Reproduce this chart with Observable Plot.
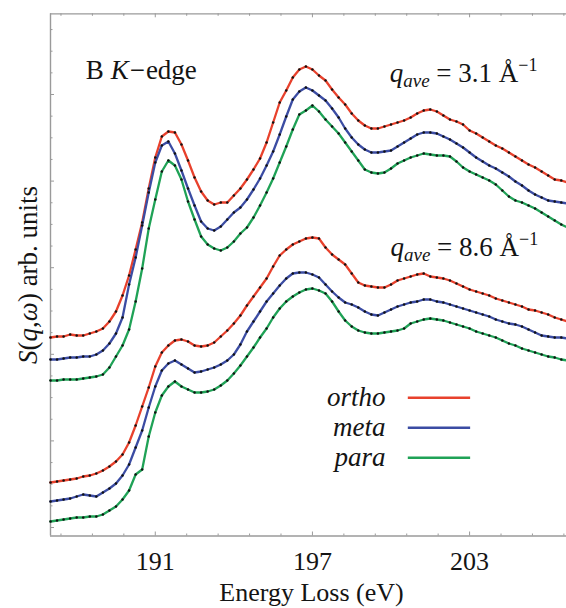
<!DOCTYPE html>
<html><head><meta charset="utf-8">
<script src="https://cdn.jsdelivr.net/npm/d3@7"></script>
<script src="https://cdn.jsdelivr.net/npm/@observablehq/plot@0.6"></script>
<style>body{margin:0;background:#fff}</style>
</head><body><div id="chart"></div>
<script>
// Energy grid of the spectra (eV)
const energyStart = 187, energyStep = 0.25;

// q_ave = 3.1 Å^-1 (arb. units)
const orthoQ31 = [203,204,204,206,205,205,207,209,212,219,229,245,265,291,318,352,383,404,409,408,396,380,363,349,340,336,338,338,345,352,361,371,382,398,418,438,450,463,471,474,471,465,460,451,443,436,427,420,415,412,412,414,416,418,420,423,427,430,431,429,425,421,419,416,410,407,403,399,395,392,388,384,380,376,373,369,365,361,360,358];
const metaQ31  = [181,181,182,183,183,184,184,186,190,197,207,223,256,283,315,348,378,395,399,387,370,352,335,319,312,310,314,321,328,333,341,351,362,375,389,406,424,441,449,453,450,445,440,432,423,412,403,396,391,388,388,389,390,394,398,402,406,408,408,407,404,401,397,393,388,383,379,375,372,368,364,359,355,350,346,343,340,339,338,337];
const paraQ31  = [160,160,161,161,161,162,163,164,166,173,184,195,211,239,272,312,341,369,380,375,361,339,321,304,296,292,290,293,299,307,313,323,335,348,362,378,394,411,426,430,435,429,421,414,407,398,389,380,371,368,367,368,372,377,380,383,385,387,386,385,385,384,379,373,369,366,363,360,356,350,344,340,338,335,332,328,324,320,316,313];

// q_ave = 8.6 Å^-1 (arb. units)
const orthoQ86 = [58,59,60,61,62,64,65,67,70,74,79,86,98,115,134,153,174,188,195,200,201,199,195,194,195,198,204,210,217,225,235,244,253,262,274,285,291,296,299,302,303,302,293,286,281,276,267,258,255,254,253,253,256,260,262,264,266,267,264,263,262,260,257,254,251,249,247,245,242,240,238,236,234,231,230,228,226,223,221,219];
const metaQ86  = [39,40,41,42,44,46,45,44,48,52,57,65,76,93,110,133,154,170,177,180,176,172,168,169,171,173,176,180,186,196,209,219,229,239,247,255,262,267,268,268,266,263,256,249,243,238,236,233,229,226,225,228,231,234,236,238,239,241,241,239,238,236,234,232,230,228,226,224,221,219,217,216,214,211,208,205,204,203,203,202];
const paraQ86  = [19,20,21,22,23,23,24,24,26,30,34,41,50,66,71,104,128,145,154,159,154,151,148,148,149,151,155,160,167,175,184,193,203,212,223,232,239,244,248,251,252,250,247,239,229,220,214,210,208,207,207,208,209,210,212,217,219,221,222,221,220,218,216,214,212,209,207,205,203,200,197,195,192,190,188,186,184,183,181,180];

const seriesNames = ["ortho", "meta", "para"];
const seriesColors = ["#e8412c", "#3b4ca3", "#1fa256"];

const xTickLabels = [191, 197, 203];
const xMinorTicks = [187.4, 188.6, 189.8, 192.2, 193.4, 194.6, 195.8, 198.2, 199.4, 200.6, 201.8, 204.2, 205.4, 206.6];
const yMajorTicks = [13, 99.6, 186.2, 272.8, 359.4, 446];
const yMinorTicks = [34.65, 56.3, 77.95, 121.25, 142.9, 164.55, 207.85, 229.5, 251.15, 294.45, 316.1, 337.75, 381.05, 402.7, 424.35, 467.65, 489.3, 510.95];

const xLabel = "Energy Loss (eV)";
const yLabel = "S(q,ω) arb. units";
const edgeLabel = "B K−edge";
const qLabels = [
  {text: "qave = 3.1 Å−1", q: "3.1", E: 199.95, S: 458.5},
  {text: "qave = 8.6 Å−1", q: "8.6", E: 199.98, S: 285}
];
const legendItems = [
  {name: "ortho", S: 142.7},
  {name: "meta", S: 112.7},
  {name: "para", S: 82.7}
];

const rows = [];
function addSeries(values, name, group) {
  values.forEach((v, i) => rows.push({E: energyStart + i * energyStep, S: v, name, key: name + group}));
}
addSeries(orthoQ31, "ortho", "q31"); addSeries(metaQ31, "meta", "q31"); addSeries(paraQ31, "para", "q31");
addSeries(orthoQ86, "ortho", "q86"); addSeries(metaQ86, "meta", "q86"); addSeries(paraQ86, "para", "q86");

const W = 566, H = 608, mL = 50, mR = 0, mT = 13.3, mB = 72.5;
const frameH = H - mT - mB, frameW = W - mL - mR;
const xDomain = [187, 206.7], yDomain = [4.5, 526.7];
const axisColor = "#9a9a9a";
const textColor = "#141414";
const serif = "Liberation Serif, Times New Roman, serif";

const svg = Plot.plot({
  width: W, height: H,
  marginLeft: mL, marginRight: mR, marginTop: mT, marginBottom: mB,
  style: {fontFamily: serif, background: "white", color: textColor},
  x: {domain: xDomain, axis: null},
  y: {domain: yDomain, axis: null},
  color: {domain: seriesNames, range: seriesColors},
  marks: [
    // frame (left, top, bottom)
    Plot.ruleX([xDomain[0]], {stroke: axisColor, strokeWidth: 1.4}),
    Plot.ruleY([yDomain[0]], {stroke: axisColor, strokeWidth: 1.4}),
    Plot.ruleY([yDomain[1]], {stroke: axisColor, strokeWidth: 1.2}),
    // inward ticks
    Plot.tickX(xTickLabels, {x: d => d, insetTop: frameH - 4, stroke: axisColor}),
    Plot.tickX(xMinorTicks, {x: d => d, insetTop: frameH - 2, stroke: axisColor}),
    Plot.tickX(xTickLabels, {x: d => d, insetBottom: frameH - 4, stroke: axisColor}),
    Plot.tickX(xMinorTicks, {x: d => d, insetBottom: frameH - 2.5, stroke: axisColor}),
    Plot.tickY(yMajorTicks, {y: d => d, insetRight: frameW - 4, stroke: axisColor}),
    Plot.tickY(yMinorTicks, {y: d => d, insetRight: frameW - 2.5, stroke: axisColor}),
    // tick labels and axis titles
    Plot.text(xTickLabels, {x: d => d, text: d => String(d), frameAnchor: "bottom", dy: 16, lineAnchor: "top", fontSize: 26, fill: textColor}),
    Plot.text([xLabel], {frameAnchor: "bottom", dy: 64.5, dx: 3, lineAnchor: "bottom", textAnchor: "middle", fontSize: 26, fill: textColor}),
    Plot.text([yLabel], {frameAnchor: "left", rotate: -90, dx: -22, lineAnchor: "middle", textAnchor: "middle", fontSize: 27, fill: textColor}),
    // spectra
    Plot.line(rows, {x: "E", y: "S", z: "key", stroke: "name", strokeWidth: 2.3}),
    Plot.dot(rows, {x: "E", y: "S", r: 1.25, fill: "#111", stroke: "none"}),
    // annotations
    Plot.text([edgeLabel], {x: () => 188.35, y: () => 461.5, textAnchor: "start", lineAnchor: "bottom", fontSize: 27, fill: textColor}),
    Plot.text(qLabels, {x: "E", y: "S", text: "text", textAnchor: "start", lineAnchor: "bottom", fontSize: 27, fill: textColor}),
    // legend
    Plot.ruleY(legendItems, {y: "S", x1: () => 200.66, x2: () => 203.04, stroke: "name", strokeWidth: 2.6}),
    Plot.text(legendItems, {x: () => 199.79, y: "S", text: "name", textAnchor: "end", lineAnchor: "middle", fontSize: 27, fontStyle: "italic", fill: textColor})
  ]
});

function rich(content, parts) {
  d3.select(svg).selectAll("text").filter(function () { return this.textContent === content; }).each(function () {
    const t = d3.select(this);
    t.text(null);
    parts.forEach(p => {
      const s = t.append("tspan").text(p.t);
      if (p.i) s.attr("font-style", "italic");
      if (p.fs) s.attr("font-size", p.fs);
      if (p.dy) s.attr("dy", p.dy);
      if (p.dx) s.attr("dx", p.dx);
    });
  });
}
rich(edgeLabel, [{t: "B "}, {t: "K", i: 1}, {t: "−", dx: 1}, {t: "edge", dx: 1}]);
qLabels.forEach(q => rich(q.text, [{t: "q", i: 1}, {t: "ave", i: 1, fs: 19, dy: 5}, {t: " = " + q.q + " Å", dy: -5}, {t: "−1", fs: 18, dy: -11}]));
rich(yLabel, [{t: "S", i: 1}, {t: "("}, {t: "q", i: 1}, {t: ","}, {t: "ω", i: 1}, {t: ") arb. units"}]);

document.getElementById("chart").appendChild(svg);
</script>
</body></html>
